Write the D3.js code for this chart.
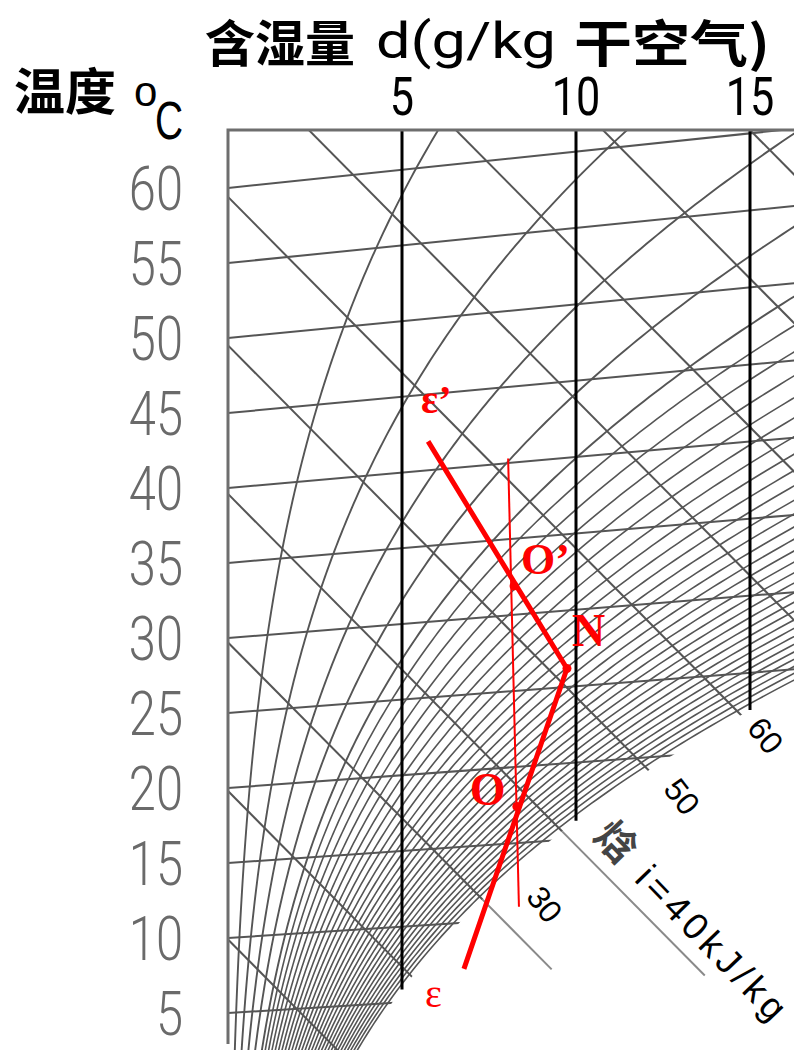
<!DOCTYPE html>
<html lang="zh">
<head>
<meta charset="UTF-8">
<script src="https://d3js.org/d3.v7.min.js"></script>
<title>焓湿图</title>
<style>
  body { margin: 0; background: #fff; }
  svg { display: block; }
</style>
</head>
<body>
<svg id="chart" width="794" height="1056"></svg>
<script>
// 温度刻度 (°C)
var tempTicks = [5, 10, 15, 20, 25, 30, 35, 40, 45, 50, 55, 60];
// 含湿量刻度 (g/kg)
var dTicks = [5, 10, 15];
// 等焓线 (kJ/kg)
var enthalpyLines = [10, 20, 30, 40, 50, 60, 70, 80, 90, 100];
// 相对湿度线 (%)
var rhLines = [5, 10, 15, 20, 25, 27.5, 30, 32.5, 35, 37.5, 40, 42.5, 45, 47.5, 50, 52.5, 55, 57.5,
  60, 62.5, 65, 67.5, 70, 72.5, 75, 77.5, 80, 82.5, 85, 87.5, 90, 92.5, 95, 97.5];
// 伸出饱和线的等焓线 (终点含湿量)
var enthalpyLeaders = [{ i: 30, dEnd: 9.3 }, { i: 40, dEnd: 13.7 }];
// 焓值标注 (位置: 含湿量 d, 焓 i)
var enthalpyLabels = [
  { text: "30", d: 9.1, i: 33.9 },
  { text: "50", d: 13.05, i: 50.5 },
  { text: "60", d: 15.45, i: 60.3 }
];
var enthalpyTitle = { d: 13.3, i: 42.7 };
// 过程点 [d g/kg, t °C]
var epsStart = [5.75, 41.9];
var pN = [9.74, 26.2];
var pO1 = [8.22, 31.9];
var pO = [8.30, 17.4];
var epsEnd = [6.78, 6.95];
var thinTop = [8.05, 40.3];
var thinBottom = [8.36, 10.8];

var P_CHART = 116; // 图面标定压力 kPa

// 物性关系
function ps(t) { return 0.6112 * Math.exp(17.62 * t / (243.12 + t)); }
function dOf(t, phi) { var p = phi * ps(t); return 622 * p / (P_CHART - p); }
function enthalpy(t, d) { return 1.01 * t + d / 1000 * (2501 + 1.85 * t); }
function satT(i) {
  var lo = -10, hi = 80;
  for (var k = 0; k < 60; k++) {
    var m = (lo + hi) / 2;
    if (enthalpy(m, dOf(m, 1)) < i) lo = m; else hi = m;
  }
  return (lo + hi) / 2;
}

// 斜角坐标: 横轴含湿量, 纵轴焓
var x = d3.scaleLinear().domain([0, 15]).range([228, 750]);
var iScale = d3.scaleLinear().domain([0, 60.6]).range([1088, 188]);
var skew = 1.01;
var X0 = x(0), TOP = 130, BOTTOM = 1050;

function pos(d, i) { return [x(d), iScale(i) + skew * (x(d) - X0)]; }
function posT(d, t) { return pos(d, enthalpy(t, d)); }

var svg = d3.select("#chart");
var line = d3.line();

// 裁剪区域
var clipPts = [[X0, TOP], [1100, TOP]];
for (var t = 30; t >= 2.2; t -= 0.25) clipPts.push(posT(dOf(t, 1), t));
clipPts.push([clipPts[clipPts.length - 1][0], BOTTOM], [X0, BOTTOM]);
svg.append("clipPath").attr("id", "area")
  .append("path").attr("d", line(clipPts) + "Z");

var grid = svg.append("g").attr("clip-path", "url(#area)")
  .attr("fill", "none").attr("stroke", "#555").attr("stroke-width", 2);

// 等温线
grid.selectAll(".iso-t").data(tempTicks).enter().append("path")
  .attr("d", function (t) { return line([posT(0, t), posT(dOf(t, 1) + 1, t)]); });

// 等焓线
grid.selectAll(".iso-i").data(enthalpyLines).enter().append("path")
  .attr("d", function (i) { return line([pos(0, i), pos(dOf(satT(i), 1) + 1, i)]); });

// 相对湿度线
grid.selectAll(".rh").data(rhLines).enter().append("path")
  .attr("stroke-width", function (r) { return r > 25 ? 1.6 : 1.9; })
  .attr("d", function (r) {
    var pts = [];
    for (var t = 0; t <= 75; t += 0.25) pts.push(posT(dOf(t, r / 100), t));
    return line(pts);
  });

// 等含湿量线
svg.append("g").selectAll("line").data(dTicks).enter().append("line")
  .attr("x1", function (d) { return x(d); }).attr("x2", function (d) { return x(d); })
  .attr("y1", TOP)
  .attr("y2", function (d) {
    var lo = -10, hi = 80;
    for (var k = 0; k < 60; k++) { var m = (lo + hi) / 2; if (dOf(m, 1) < d) lo = m; else hi = m; }
    return posT(d, lo)[1];
  })
  .attr("stroke", "#000").attr("stroke-width", 3);

// 边框
svg.append("path").attr("d", line([[X0, BOTTOM - 6], [X0, TOP], [794, TOP]]))
  .attr("fill", "none").attr("stroke", "#6e6e6e").attr("stroke-width", 3);

// 焓值引出线
svg.append("g").selectAll("path").data(enthalpyLeaders).enter().append("path")
  .attr("d", function (e) { return line([pos(dOf(satT(e.i), 1), e.i), pos(e.dEnd, e.i)]); })
  .attr("stroke", "#8a8a8a").attr("stroke-width", 2);

// 焓值标注
svg.append("g").selectAll("text").data(enthalpyLabels).enter().append("text")
  .attr("transform", function (e) { var p = pos(e.d, e.i); return "translate(" + p[0] + "," + p[1] + ") rotate(52)"; })
  .attr("text-anchor", "middle").attr("dy", "0.35em")
  .attr("font-family", "Liberation Sans, Arial, sans-serif").attr("font-size", 32)
  .attr("fill", "#000").text(function (e) { return e.text; });

(function () {
  var p = pos(enthalpyTitle.d, enthalpyTitle.i);
  var tx = svg.append("text")
    .attr("transform", "translate(" + p[0] + "," + p[1] + ") rotate(46)")
    .attr("text-anchor", "middle").attr("dy", "0.35em")
    .attr("font-size", 37).attr("font-family", "Liberation Sans, Arial, sans-serif")
    .attr("textLength", 258).attr("lengthAdjust", "spacing");
  tx.append("tspan").attr("font-family", "Noto Sans CJK SC").attr("font-weight", 700)
    .attr("font-size", 40).attr("fill", "#444").text("焓 ");
  tx.append("tspan").attr("fill", "#000").text("i=40kJ/kg");
})();

// 温度刻度
svg.append("g").selectAll("text").data(tempTicks).enter().append("text")
  .attr("transform", function (t) { return "translate(183," + (posT(0, t)[1] + 22) + ") scale(0.8,1)"; })
  .attr("text-anchor", "end")
  .attr("font-family", "Roboto, Liberation Sans, sans-serif").attr("font-weight", 300)
  .attr("font-size", 61).attr("fill", "#6a6a6a")
  .text(function (t) { return t; });

// 含湿量刻度
svg.append("g").selectAll("text").data(dTicks).enter().append("text")
  .attr("transform", function (d) { return "translate(" + x(d) + ",115) scale(0.8,1)"; })
  .attr("text-anchor", "middle")
  .attr("font-family", "Roboto, Liberation Sans, sans-serif")
  .attr("font-size", 54).attr("fill", "#000")
  .text(function (d) { return d; });

// 标题
var cjk = "Noto Sans CJK SC, sans-serif";
svg.append("text").attr("x", 205).attr("y", 62).attr("font-family", cjk).attr("font-weight", 700)
  .attr("font-size", 50).attr("textLength", 150).attr("lengthAdjust", "spacingAndGlyphs").text("含湿量");
svg.append("text").attr("x", 376).attr("y", 58).attr("font-family", "Roboto, Liberation Sans, sans-serif")
  .attr("font-size", 50).attr("textLength", 180).attr("lengthAdjust", "spacingAndGlyphs").text("d(g/kg");
svg.append("text").attr("x", 574).attr("y", 62).attr("font-family", cjk).attr("font-weight", 700)
  .attr("font-size", 50).attr("textLength", 196).attr("lengthAdjust", "spacingAndGlyphs").text("干空气)");
svg.append("text").attr("x", 14).attr("y", 110).attr("font-family", cjk).attr("font-weight", 700)
  .attr("font-size", 50).attr("textLength", 102).attr("lengthAdjust", "spacingAndGlyphs").text("温度");
svg.append("text").attr("x", 134).attr("y", 106).attr("font-family", "Liberation Sans, sans-serif")
  .attr("font-size", 42).text("o");
svg.append("text").attr("transform", "translate(155,139) scale(0.72,1)")
  .attr("font-family", "Liberation Sans, sans-serif").attr("font-size", 54).text("C");

// 空气处理过程 (红色)
var red = "#ff0000";
var ann = svg.append("g").attr("fill", "none").attr("stroke", red).attr("stroke-linecap", "butt");
ann.append("path").attr("d", line([posT(thinTop[0], thinTop[1]), posT(thinBottom[0], thinBottom[1])]))
  .attr("stroke-width", 2);
ann.append("path").attr("d", line([posT(epsStart[0], epsStart[1]), posT(pN[0], pN[1]), posT(epsEnd[0], epsEnd[1])]))
  .attr("stroke-width", 5).attr("stroke-linejoin", "round");
svg.append("g").selectAll("circle").data([pN, pO1, pO]).enter().append("circle")
  .attr("cx", function (p) { return posT(p[0], p[1])[0]; })
  .attr("cy", function (p) { return posT(p[0], p[1])[1]; })
  .attr("r", 4.5).attr("fill", red);

var labels = [
  { p: epsStart, dx: -7, dy: -28, text: "ε’", size: 40, w: 700 },
  { p: pO1, dx: 7, dy: -12, text: "O’", size: 44, w: 700 },
  { p: pN, dx: 5, dy: -23, text: "N", size: 46, w: 700 },
  { p: pO, dx: -47, dy: -1, text: "O", size: 46, w: 700 },
  { p: epsEnd, dx: -39, dy: 38, text: "ε", size: 40, w: 400 }
];
svg.append("g").selectAll("text").data(labels).enter().append("text")
  .attr("x", function (l) { return posT(l.p[0], l.p[1])[0] + l.dx; })
  .attr("y", function (l) { return posT(l.p[0], l.p[1])[1] + l.dy; })
  .attr("font-family", "Liberation Serif, Times New Roman, serif")
  .attr("font-size", function (l) { return l.size; })
  .attr("font-weight", function (l) { return l.w; })
  .attr("fill", red).text(function (l) { return l.text; });
</script>
</body>
</html>
